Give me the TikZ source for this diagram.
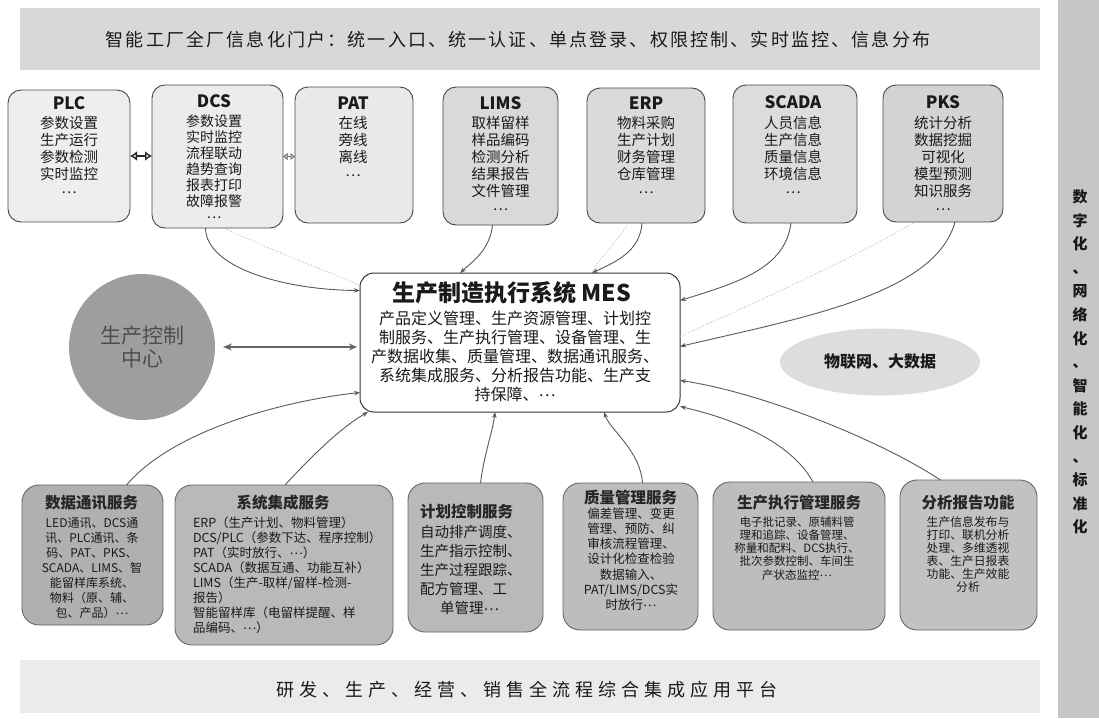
\documentclass[tikz,border=0pt]{standalone}
\usepackage{fontspec}
\setmainfont{Noto Sans CJK SC}
\newfontfamily\widea{Noto Sans CJK SC}[LetterSpace=12]
\newfontfamily\wideb{Noto Sans CJK SC}[LetterSpace=28]
\usetikzlibrary{arrows.meta,shapes.geometric}
\newcommand\mdots{\raisebox{0.25em}{…}}
\definecolor{txt}{HTML}{1A1A1A}
\definecolor{bannerTop}{HTML}{D8D8D8}
\definecolor{bannerBot}{HTML}{EBEBEB}
\definecolor{side}{HTML}{C6C6C6}
\definecolor{fPLC}{HTML}{EEEEEE}
\definecolor{fDCS}{HTML}{ECECEC}
\definecolor{fPAT}{HTML}{E9E9E9}
\definecolor{fLIMS}{HTML}{D9D9D9}
\definecolor{fERP}{HTML}{DADADA}
\definecolor{fSCADA}{HTML}{DCDCDC}
\definecolor{fPKS}{HTML}{D3D3D3}
\definecolor{boxB}{HTML}{B9B9B9}
\definecolor{circf}{HTML}{9E9E9E}
\definecolor{circt}{HTML}{4E4E4E}
\definecolor{ellf}{HTML}{DDDDDD}
\begin{document}
\begin{tikzpicture}[x=1pt,y=-1pt,
  every node/.style={inner sep=0pt,outer sep=0pt,text=txt},
  tbox/.style={draw=black!72,line width=0.9pt,rounded corners=13pt,anchor=north west},
  bbox/.style={draw=black!60,line width=0.9pt,rounded corners=17pt,anchor=north west,fill=boxB},
  ttl/.style={font=\fontsize{17}{17}\selectfont\bfseries},
  tbody/.style={anchor=north,align=center,font=\fontsize{14.5}{17}\selectfont},
  btitle/.style={font=\fontsize{15.5}{16}\selectfont\bfseries, text=black!85},
  conn/.style={draw=black!65,line width=0.9pt,-{Stealth[length=6pt,width=4.5pt]}},
  faint/.style={draw=black!35,line width=0.8pt,dotted},
]
\useasboundingbox (0,0) rectangle (1099,718);

% banners and side bar
\node[fill=bannerTop,minimum width=1020pt,minimum height=62pt,anchor=north west] (portal) at (20,8) {};
\node[font=\fontsize{18}{18}\selectfont\widea] (portalt) at (518,40) {智能工厂全厂信息化门户：统一入口、统一认证、单点登录、权限控制、实时监控、信息分布};
\node[fill=bannerBot,minimum width=1020pt,minimum height=53pt,anchor=north west] (platform) at (20,660) {};
\node[font=\fontsize{18}{18}\selectfont\wideb] (platformt) at (527,690) {研发、生产、经营、销售全流程综合集成应用平台};
\node[fill=side,minimum width=41pt,minimum height=718pt,anchor=north west] (sidebar) at (1058,0) {};
\node[align=center,font=\fontsize{15}{23.6}\selectfont\bfseries] (sidet) at (1080,362) {数\\字\\化\\、\\网\\络\\化\\、\\智\\能\\化\\、\\标\\准\\化};

% top boxes
\node[tbox,fill=fPLC,minimum width=122pt,minimum height=132pt] (plc) at (8,90) {};
\node[tbox,fill=fDCS,minimum width=131pt,minimum height=143pt] (dcs) at (152,85) {};
\node[tbox,fill=fPAT,minimum width=118pt,minimum height=136pt] (pat) at (295,87) {};
\node[tbox,fill=fLIMS,minimum width=115pt,minimum height=138pt] (lims) at (443,87) {};
\node[tbox,fill=fERP,minimum width=118pt,minimum height=135pt] (erp) at (587,88) {};
\node[tbox,fill=fSCADA,minimum width=124pt,minimum height=138pt] (scada) at (733,85) {};
\node[tbox,fill=fPKS,minimum width=120pt,minimum height=137pt] (pks) at (883,85) {};

\node[ttl] (plct) at (69,103) {PLC};
\node[tbody] (plcb) at (69,116.5) {参数设置\\生产运行\\参数检测\\实时监控\\\mdots};
\node[ttl] (dcst) at (214,101) {DCS};
\node[tbody,font=\fontsize{14}{16}\selectfont] (dcsb) at (214,114.5) {参数设置\\实时监控\\流程联动\\趋势查询\\报表打印\\故障报警\\\mdots};
\node[ttl] (patt) at (353,103) {PAT};
\node[tbody] (patb) at (353,116.5) {在线\\旁线\\离线\\\mdots};
\node[ttl] (limst) at (500.5,103) {LIMS};
\node[tbody] (limsb) at (500.5,116.5) {取样留样\\样品编码\\检测分析\\结果报告\\文件管理\\\mdots};
\node[ttl] (erpt) at (646,103) {ERP};
\node[tbody] (erpb) at (646,116.5) {物料采购\\生产计划\\财务管理\\仓库管理\\\mdots};
\node[ttl] (scadat) at (793,102) {SCADA};
\node[tbody] (scadab) at (793,116.5) {人员信息\\生产信息\\质量信息\\环境信息\\\mdots};
\node[ttl] (pkst) at (943,102) {PKS};
\node[tbody] (pksb) at (943,116.5) {统计分析\\数据挖掘\\可视化\\模型预测\\知识服务\\\mdots};

% MES
\node[draw=black!80,line width=1pt,rounded corners=14pt,fill=white,minimum width=320pt,minimum height=139pt,anchor=north west] (mes) at (360,273) {};
\node[font=\fontsize{23}{23}\selectfont\bfseries] (mest) at (511.5,293) {生产制造执行系统 MES};
\node[anchor=north,align=center,font=\fontsize{16}{19}\selectfont] (mesb) at (515,310.8) {产品定义管理、生产资源管理、计划控\\制服务、生产执行管理、设备管理、生\\产数据收集、质量管理、数据通讯服务、\\系统集成服务、分析报告功能、生产支\\持保障、\mdots};

% circle and ellipse
\node[circle,fill=circf,minimum size=146pt,align=center,text=circt,font=\fontsize{21}{23}\selectfont] (circ) at (142,347) {生产控制\\中心};
\node[ellipse,fill=ellf,minimum width=200pt,minimum height=67pt,font=\fontsize{16}{16}\selectfont\bfseries] (iot) at (880,362) {物联网、大数据};

% bottom boxes
\node[bbox,fill=black!31,minimum width=141pt,minimum height=140pt] (data) at (22,485) {};
\node[bbox,minimum width=218pt,minimum height=160pt] (sys) at (175,485) {};
\node[bbox,minimum width=135pt,minimum height=149pt] (plan) at (408,483) {};
\node[bbox,fill=black!26,minimum width=135pt,minimum height=147pt] (qual) at (563,483) {};
\node[bbox,fill=black!26,minimum width=172pt,minimum height=148pt] (exe) at (713,482) {};
\node[bbox,fill=black!24,minimum width=137pt,minimum height=150pt] (ana) at (900,480) {};

\node[btitle] (datat) at (91.5,503) {数据通讯服务};
\node[anchor=north,align=center,font=\fontsize{12}{15}\selectfont] (datab) at (92,517.6) {LED通讯、DCS通\\讯、PLC通讯、条\\码、PAT、PKS、\\SCADA、LIMS、智\\能留样库系统、\\物料（原、辅、\\包、产品）\mdots};
\node[btitle] (syst) at (283,503) {系统集成服务};
\node[anchor=north west,align=left,font=\fontsize{12.5}{15}\selectfont] (sysb) at (193,517) {ERP（生产计划、物料管理）\\DCS/PLC（参数下达、程序控制）\\PAT（实时放行、\mdots）\\SCADA（数据互通、功能互补）\\LIMS（生产-取样/留样-检测-\\报告）\\智能留样库（电留样提醒、样\\品编码、\mdots）};
\node[btitle,anchor=west] (plant) at (420,512) {计划控制服务};
\node[anchor=north west,align=left,font=\fontsize{14.5}{19}\selectfont] (planb) at (420,525.5) {自动排产调度、\\生产指示控制、\\生产过程跟踪、\\配方管理、工\\\hspace*{20pt}单管理\mdots};
\node[btitle] (qualt) at (630.5,498) {质量管理服务};
\node[anchor=north,align=center,font=\fontsize{12.5}{15.3}\selectfont] (qualb) at (631,507.4) {偏差管理、变更\\管理、预防、纠\\审核流程管理、\\设计化检查检验\\数据输入、\\PAT/LIMS/DCS实\\时放行\mdots};
\node[btitle] (exet) at (799,503) {生产执行管理服务};
\node[anchor=north,align=center,font=\fontsize{11.5}{13.2}\selectfont] (exeb) at (797,516.6) {电子批记录、原辅料管\\理和追踪、设备管理、\\称量和配料、DCS执行、\\批次参数控制、车间生\\产状态监控\mdots};
\node[btitle] (anat) at (968,503) {分析报告功能};
\node[anchor=north,align=center,font=\fontsize{11.8}{13}\selectfont] (anab) at (968,516.6) {生产信息发布与\\打印、联机分析\\处理、多维透视\\表、生产日报表\\功能、生产效能\\分析};

% short double arrows between top boxes
\draw[draw=black!85,line width=1.8pt,{Latex[open,length=7pt,width=10pt]}-{Latex[open,length=7pt,width=10pt]}] (plc.east) -- (plc.east -| dcs.west);
\draw[draw=black!60,line width=1.6pt,{Latex[open,length=4.5pt,width=8pt]}-{Latex[open,length=4.5pt,width=8pt]}] (dcs.east) -- (dcs.east -| pat.west);

% circle <-> MES
\draw[draw=black!60,line width=1.3pt,{Stealth[length=9pt,width=7pt]}-{Stealth[open,length=8pt,width=7pt]}] ([xshift=8pt]circ.east) -- ([xshift=-3pt]circ.east -| mes.west);

% connectors from top
\draw[faint] ([xshift=6pt]dcs.south) .. controls (270,250) and (330,272) .. ([yshift=57pt]mes.west);
\draw[conn] ([xshift=-12pt]dcs.south) .. controls (206,268) and (285,290) .. ([yshift=52pt]mes.west);
\draw[conn] ([xshift=-8pt]lims.south) .. controls (490,250) and (472,262) .. ([xshift=-60pt]mes.north);
\draw[faint] ([xshift=-18pt]erp.south) .. controls (620,240) and (598,258) .. ([xshift=72pt]mes.north);
\draw[conn] ([xshift=-4pt]erp.south) .. controls (640,252) and (615,262) .. ([xshift=72pt]mes.north);
\draw[conn] ([xshift=-4pt]scada.south) .. controls (785,268) and (740,282) .. ([yshift=42pt]mes.east);
\draw[faint] ([xshift=-28pt]pks.south) .. controls (850,260) and (750,305) .. ([yshift=6pt]mes.east);
\draw[conn] ([xshift=12pt]pks.south) .. controls (935,295) and (800,318) .. ([yshift=-4pt]mes.east);

% connectors from bottom
\draw[conn] ([xshift=-28pt]ana.north) .. controls (880,440) and (760,392) .. ([yshift=-38pt]mes.east);
\draw[conn] ([xshift=14pt]exe.north) .. controls (790,440) and (730,418) .. ([yshift=-64pt]mes.east);
\draw[conn] ([xshift=12pt]qual.north) .. controls (640,450) and (610,430) .. ([xshift=84pt]mes.south);
\draw[conn] ([xshift=5pt]plan.north) .. controls (484,455) and (493,430) .. ([xshift=-25pt]mes.south);
\draw[conn] ([xshift=1pt]sys.north) .. controls (310,458) and (340,428) .. ([xshift=8pt]mes.south west);
\draw[conn] ([xshift=34pt]data.north) .. controls (175,428) and (290,400) .. ([yshift=-50pt]mes.west);
\end{tikzpicture}
\end{document}
